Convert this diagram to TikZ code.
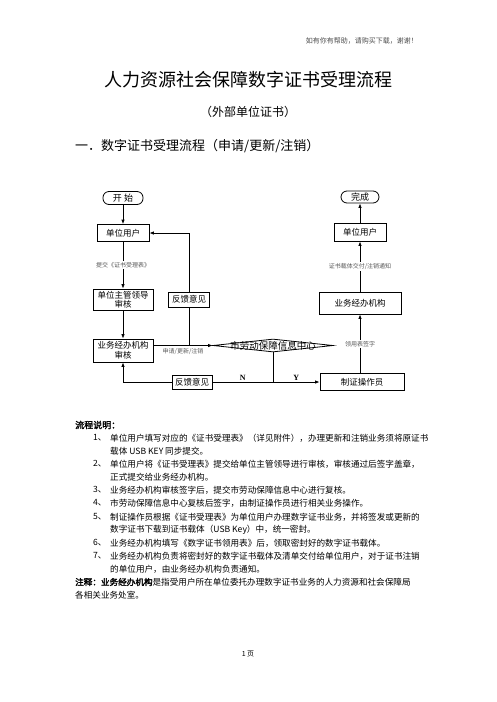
\documentclass[tikz,border=0pt]{standalone}
\usepackage{fontspec}
\setmainfont{Liberation Serif}
\newfontfamily\cjk[AutoFakeBold=2]{Noto Sans CJK SC}
\usetikzlibrary{arrows.meta, shapes.geometric, positioning}

\tikzset{
  flow/.style={line width=0.8pt},
  arr/.style={flow, -{Latex[length=4.5pt,width=3.5pt]}},
  box/.style={draw, flow, minimum height=17pt, inner sep=1pt, align=center,
    font=\cjk\fontsize{8.5}{9.5}\selectfont},
  term/.style={draw, flow, rounded corners=6pt, minimum width=40pt, minimum height=13pt,
    inner sep=1pt, font=\cjk\fontsize{9}{10}\selectfont},
  lbl/.style={fill=white, inner sep=1pt, text=black!65, font=\cjk\fontsize{6}{7}\selectfont},
  yn/.style={inner sep=1pt, font=\bfseries\fontsize{8}{9}\selectfont},
  txt/.style={anchor=west, inner sep=0pt, font=\cjk\fontsize{8.6}{10}\selectfont},
}

\begin{document}
\begin{tikzpicture}[x=1pt, y=-1pt]
\useasboundingbox (0,0) rectangle (496,702);

% page texts
\node[anchor=east, inner sep=0pt, text=black!70, font=\cjk\fontsize{7}{8}\selectfont] (note) at (418,41) {如有你有帮助，请购买下载，谢谢！};
\node[inner sep=0pt, font=\cjk\fontsize{18}{20}\selectfont] (title) at (248,80) {人力资源社会保障数字证书受理流程};
\node[inner sep=0pt, font=\cjk\fontsize{12}{14}\selectfont] (subtitle) at (248,112) {（外部单位证书）};
\node[anchor=west, inner sep=0pt, font=\cjk\fontsize{13}{15}\selectfont] (section) at (75,146) {一．数字证书受理流程（申请/更新/注销）};

% flow chart, left column
\node[term] (start) at (123,198) {开\ 始};
\node[box, minimum width=52pt] (user1) at (123,233) {单位用户};
\node[box, minimum width=60pt, minimum height=21pt] (lead) at (123,299.5) {单位主管领导\\审核};
\node[box, minimum width=41pt, minimum height=15pt] (fb1) at (189,299.5) {反馈意见};
\node[box, minimum width=60pt, minimum height=23pt] (agency1) at (123,350.5) {业务经办机构\\审核};
\node[draw, flow, diamond, minimum width=120pt, minimum height=13pt, inner sep=0pt] (center) at (273,345.5) {};
\node[inner sep=0pt, font=\cjk\fontsize{9.5}{10}\selectfont] (centertext) at (center) {市劳动保障信息中心};
\node[box, minimum width=40pt, minimum height=14pt] (fb2) at (192,382) {反馈意见};

% right column
\node[box, minimum width=84pt] (op) at (362,382) {制证操作员};
\node[box, minimum width=82pt, minimum height=22pt] (agency2) at (360,303) {业务经办机构};
\node[box, minimum width=52pt, minimum height=18pt] (user2) at (360,232) {单位用户};
\node[term, minimum width=38pt, minimum height=12pt] (done) at (360,197) {完成};

\coordinate (split) at (center.south |- op.west);

\draw[arr] (start) -- (user1);
\draw[arr] (user1) -- node[lbl] {提交《证书受理表》} (lead);
\draw[arr] (lead) -- (agency1);
\draw[arr] (agency1.east |- center.west) -- node[lbl, below, fill=none, yshift=-2pt] {申请/更新/注销} (center.west);
\draw[flow] (fb1) -- (fb1.south |- center.west);
\draw[arr] (fb1.north) |- (user1.east);
\draw[flow] (center.south) -- (split);
\draw[flow] (split) -- node[yn, above] {N} (fb2.east);
\draw[arr] (split) -- node[yn, above] {Y} (op.west);
\draw[arr] (fb2.west) -| (agency1.south);
\draw[arr] (op.north -| agency2) -- node[lbl] {领用表签字} (agency2);
\draw[arr] (agency2) -- node[lbl] {证书载体交付/注销通知} (user2);
\draw[arr] (user2) -- (done);

% explanation
\node[txt, font=\cjk\bfseries\fontsize{9}{10}\selectfont] (head) at (75,425) {流程说明：};
\node[txt] (n1) at (93,438) {1、};
\node[txt] (l1) at (110,438) {单位用户填写对应的《证书受理表》（详见附件），办理更新和注销业务须将原证书};
\node[txt] (l1b) at (110,451) {载体 USB KEY 同步提交。};
\node[txt] (n2) at (93,464) {2、};
\node[txt] (l2) at (110,464) {单位用户将《证书受理表》提交给单位主管领导进行审核，审核通过后签字盖章，};
\node[txt] (l2b) at (110,477) {正式提交给业务经办机构。};
\node[txt] (n3) at (93,490) {3、};
\node[txt] (l3) at (110,490) {业务经办机构审核签字后，提交市劳动保障信息中心进行复核。};
\node[txt] (n4) at (93,503) {4、};
\node[txt] (l4) at (110,503) {市劳动保障信息中心复核后签字，由制证操作员进行相关业务操作。};
\node[txt] (n5) at (93,517) {5、};
\node[txt] (l5) at (110,517) {制证操作员根据《证书受理表》为单位用户办理数字证书业务，并将签发或更新的};
\node[txt] (l5b) at (110,530) {数字证书下载到证书载体（USB Key）中，统一密封。};
\node[txt] (n6) at (93,543) {6、};
\node[txt] (l6) at (110,543) {业务经办机构填写《数字证书领用表》后，领取密封好的数字证书载体。};
\node[txt] (n7) at (93,556) {7、};
\node[txt] (l7) at (110,556) {业务经办机构负责将密封好的数字证书载体及清单交付给单位用户，对于证书注销};
\node[txt] (l7b) at (110,569) {的单位用户，由业务经办机构负责通知。};
\node[txt] (remark) at (75,582) {\bfseries 注释：业务经办机构\mdseries 是指受用户所在单位委托办理数字证书业务的人力资源和社会保障局};
\node[txt] (remarkb) at (75,595) {各相关业务处室。};

\node[inner sep=0pt, font=\cjk\fontsize{7}{8}\selectfont] (page) at (248,654) {1 页};
\end{tikzpicture}
\end{document}
